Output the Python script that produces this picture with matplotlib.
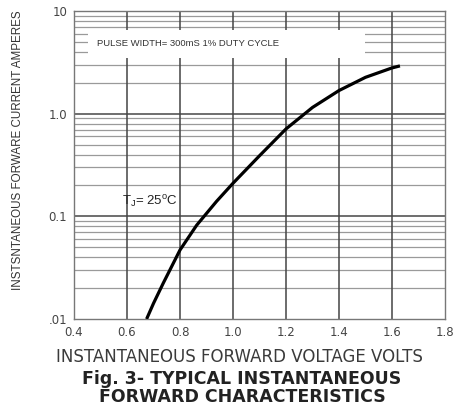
import numpy as np
import matplotlib.pyplot as plt
from matplotlib.patches import Rectangle

# curve
volts = [0.674, 0.70, 0.737, 0.80, 0.863, 0.938, 1.0, 1.1, 1.2, 1.3, 1.4, 1.5, 1.6, 1.63]
amps = [0.01, 0.0142, 0.0224, 0.047, 0.082, 0.14, 0.21, 0.389, 0.71, 1.15, 1.68, 2.26, 2.79, 2.92]

xticks = [0.4, 0.6, 0.8, 1.0, 1.2, 1.4, 1.6, 1.8]
xticklabels = ['0.4', '0.6', '0.8', '1.0', '1.2', '1.4', '1.6', '1.8']
yticks = [0.01, 0.1, 1.0, 10]
yticklabels = ['.01', '0.1', '1.0', '10']

plt.rcParams['font.family'] = ['Liberation Sans', 'DejaVu Sans']

fig = plt.figure(figsize=(4.72, 4.07), dpi=100)
ax = fig.add_axes([74/472, 1-319/407, (445-74)/472, (319-11)/407])

ax.set_yscale('log')
ax.set_xlim(0.4, 1.8)
ax.set_ylim(0.01, 10)

# grid
for dec in [0.01, 0.1, 1.0]:
    for k in range(2, 10):
        ax.axhline(dec*k, color='#9a9a9a', lw=0.9, zorder=1)
for y in [0.1, 1.0]:
    ax.axhline(y, color='#555555', lw=1.2, zorder=1)
for x in xticks[1:-1]:
    ax.axvline(x, color='#444444', lw=1.1, zorder=1)

# white box behind the pulse note
box_x0 = 0.4 + (88-74)/53*0.2
box_x1 = 0.4 + (365-74)/53*0.2
box_y0 = 10**(1-(58-11)/103)
box_y1 = 10**(1-(30-11)/103)
ax.add_patch(Rectangle((box_x0, box_y0), box_x1-box_x0, box_y1-box_y0,
                       facecolor='white', edgecolor='none', zorder=2))
ax.text(0.4 + (97-74)/53*0.2, 10**(1-(44-11)/103), 'PULSE WIDTH= 300mS 1% DUTY CYCLE',
        fontsize=6.8, color='#333333', va='center', ha='left', zorder=3)

ax.plot(volts, amps, color='black', lw=2.3, zorder=4, solid_capstyle='butt',
        solid_joinstyle='round')

ax.text(0.58, 0.137, r'T$_\mathregular{J}$= 25$^\mathregular{o}$C', fontsize=9.5,
        color='#222222', va='center', ha='left', zorder=3)

ax.set_xticks(xticks)
ax.set_xticklabels(xticklabels)
ax.set_yticks(yticks)
ax.set_yticklabels(yticklabels)
ax.minorticks_off()
ax.tick_params(length=0, labelsize=8.5, labelcolor='#444444', pad=5)
for lab in ax.get_xticklabels() + ax.get_yticklabels():
    lab.set_family('DejaVu Sans')

for s in ax.spines.values():
    s.set_color('#777777')
    s.set_linewidth(1.0)

fig.text(18/472, 1-150/407, 'INSTSNTANEOUS FORWARE CURRENT AMPERES', rotation=90,
         ha='center', va='center', fontsize=8.4, color='#333333')
fig.text(239/472, 1-357/407, 'INSTANTANEOUS FORWARD VOLTAGE VOLTS',
         ha='center', va='center', fontsize=12, color='#3a3a3a', family='DejaVu Sans')
fig.text(242/472, 1-388/407, 'Fig. 3- TYPICAL INSTANTANEOUS\nFORWARD CHARACTERISTICS',
         ha='center', va='center', fontsize=12.5, fontweight='bold', color='#222222',
         linespacing=1.05, family='DejaVu Sans')

fig.savefig('out.png', dpi=100)
